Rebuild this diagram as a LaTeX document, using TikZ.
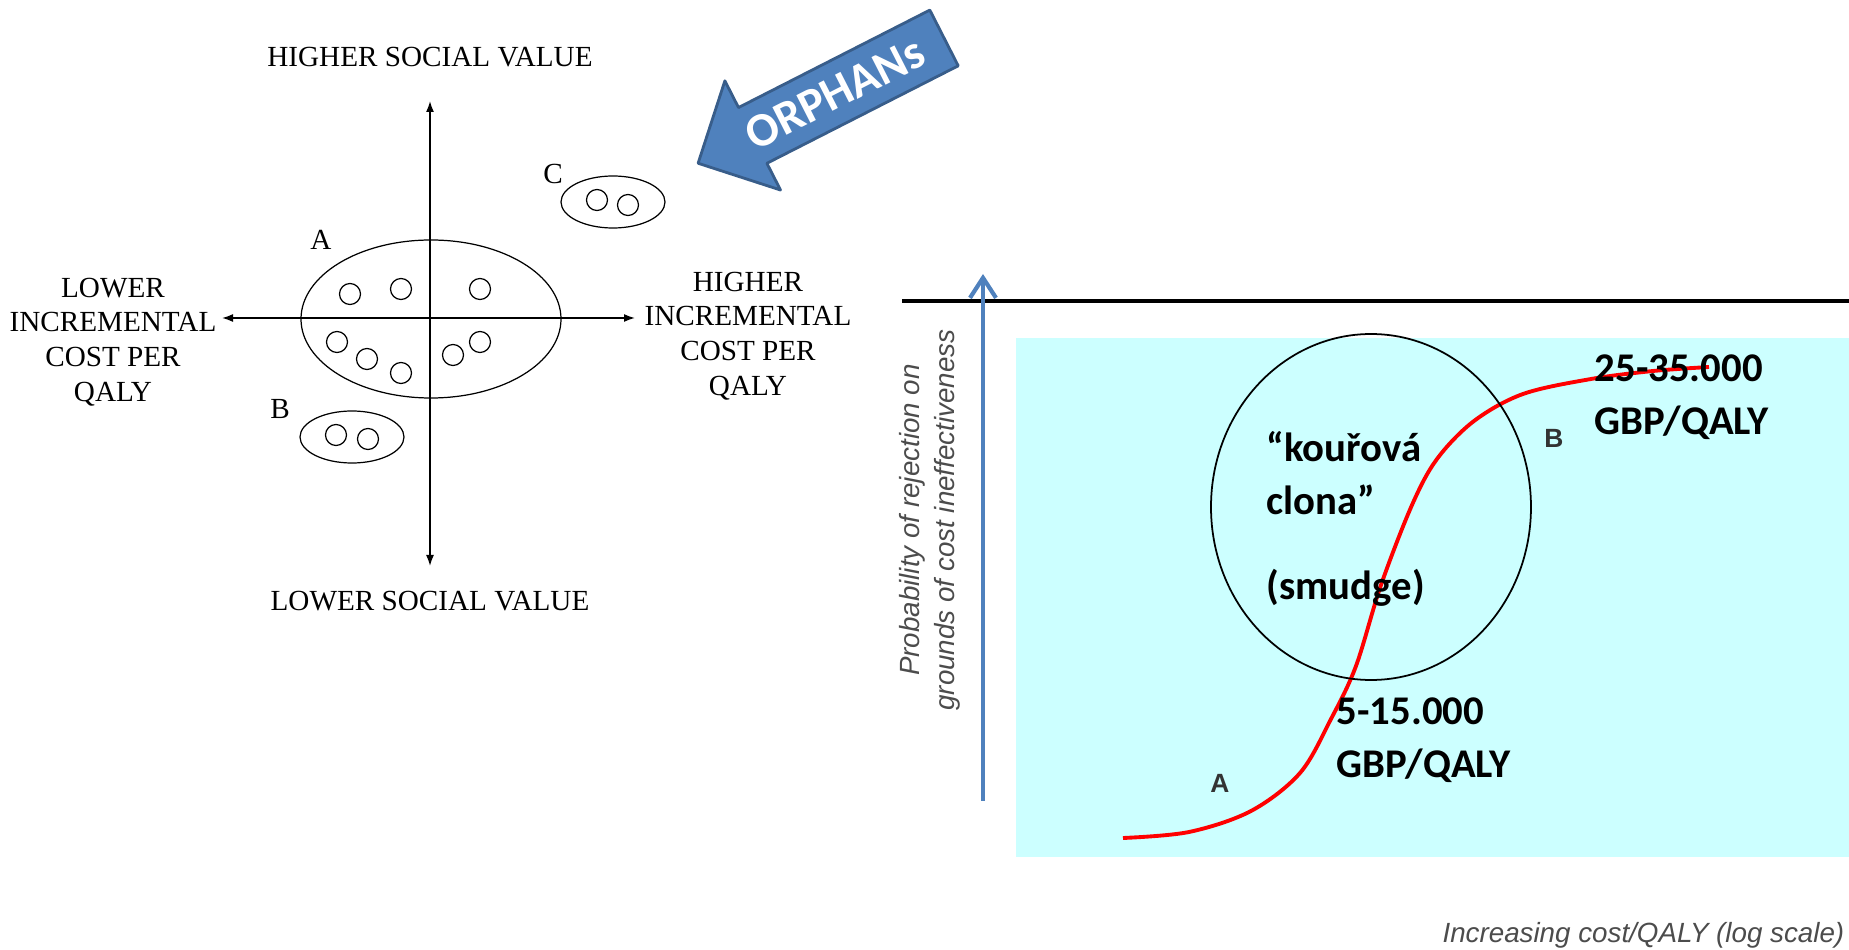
\documentclass[tikz,border=0pt]{standalone}
\usepackage{fontspec}
\setmainfont{Liberation Serif}
\newfontfamily\calibrifont{Carlito}
\newfontfamily\arialfont{Liberation Sans}
\usepackage{xcolor}
\usetikzlibrary{shapes.geometric,shapes.arrows,arrows.meta,positioning}
\definecolor{officeblue}{HTML}{4F81BD}
\definecolor{officeline}{HTML}{385D8A}
\definecolor{panelcyan}{HTML}{CCFFFF}

\begin{document}
\begin{tikzpicture}[line join=round, >={Latex[length=1.1mm,width=0.8mm]}]
    \tikzstyle{quad label}=[font=\fontsize{8.3}{9.9}\selectfont, align=center, inner sep=0pt]
    \tikzstyle{axis}=[<->, line width=0.45pt]
    \tikzstyle{group}=[ellipse, draw, line width=0.35pt, inner sep=0pt]
    \tikzstyle{drug}=[circle, draw, line width=0.35pt, minimum size=0.21cm, inner sep=0pt]
    \tikzstyle{orphan arrow}=[single arrow, shape border rotate=180, fill=officeblue, draw=officeline,
        line width=0.8pt, text=white, font=\calibrifont\bfseries\fontsize{13.6}{14}\selectfont,
        text height=8.8pt, text depth=0pt, inner ysep=4.1pt, inner xsep=2pt,
        single arrow head extend=0.3cm, minimum height=2.76cm]
    \tikzstyle{bold label}=[font=\calibrifont\bfseries\fontsize{11.6}{15}\selectfont, align=left, inner sep=0pt]
    \tikzstyle{axis title}=[font=\arialfont\itshape\fontsize{7.9}{10}\selectfont, text=black!70, align=center, inner sep=0pt]
    \tikzstyle{curve mark}=[font=\arialfont\bfseries\fontsize{7.5}{9}\selectfont, text=black!80, inner sep=0pt]
    \tikzstyle{yarrow}=[draw=officeblue, line width=1.2pt, -{Straight Barb[length=2mm,width=2.6mm]}]
    \tikzstyle{scurve}=[draw=red, line width=1.1pt]
    \tikzstyle{haze}=[ellipse, draw, line width=0.5pt, minimum width=3.2cm, minimum height=3.46cm]

    \useasboundingbox (0,0) rectangle (18.49,-9.50);

    % social value quadrant
    \coordinate (origin) at (4.30,-3.18);
    \coordinate (xneg) at (2.22,-3.18);
    \coordinate (xpos) at (6.35,-3.18);
    \coordinate (ypos) at (4.30,-1.01);
    \coordinate (yneg) at (4.30,-5.66);
    \draw[axis] (xneg) -- (xpos);
    \draw[axis] (yneg) -- (ypos);

    \node[quad label] (hsv) at (4.30,-0.57) {HIGHER SOCIAL VALUE};
    \node[quad label] (lsv) at (4.30,-6.01) {LOWER SOCIAL VALUE};
    \node[quad label] (lic) at (1.13,-3.42) {LOWER\\INCREMENTAL\\COST PER\\QALY};
    \node[quad label] (hic) at (7.48,-3.36) {HIGHER\\INCREMENTAL\\COST PER\\QALY};

    \node[group, minimum width=2.60cm, minimum height=1.58cm] (grpA) at (4.31,-3.19) {};
    \node[group, minimum width=1.04cm, minimum height=0.52cm] (grpB) at (3.52,-4.37) {};
    \node[group, minimum width=1.04cm, minimum height=0.52cm] (grpC) at (6.13,-2.02) {};
    \node[quad label] (labA) at (3.21,-2.40) {A};
    \node[quad label] (labB) at (2.80,-4.09) {B};
    \node[quad label] (labC) at (5.53,-1.74) {C};

    \foreach \pos [count=\i] in {(3.50,-2.94),(4.01,-2.89),(4.80,-2.89),(3.37,-3.42),
                                 (3.67,-3.59),(4.01,-3.73),(4.53,-3.55),(4.80,-3.42)}
        \node[drug] (drugA\i) at \pos {};
    \node[drug] (drugB1) at (3.36,-4.35) {};
    \node[drug] (drugB2) at (3.68,-4.39) {};
    \node[drug] (drugC1) at (5.97,-2.00) {};
    \node[drug] (drugC2) at (6.28,-2.05) {};

    \node[orphan arrow, rotate=27] (orphans) at (8.35,-0.935) {ORPHANs};

    % rejection curve
    \fill[panelcyan] (10.16,-3.38) rectangle (18.49,-8.57);
    \coordinate (lineL) at (9.02,-3.01);
    \coordinate (lineR) at (18.49,-3.01);
    \draw[line width=0.9pt] (lineL) -- (lineR);
    \coordinate (yfoot) at (9.83,-8.01);
    \coordinate (yhead) at (9.83,-2.74);
    \draw[yarrow] (yfoot) -- (yhead);

    \draw[scurve] plot[smooth, tension=0.55] coordinates {(11.23,-8.38) (11.89,-8.32) (12.51,-8.11)
        (13.00,-7.73) (13.31,-7.19) (13.56,-6.66) (13.81,-5.85) (14.12,-5.05) (14.37,-4.59)
        (14.74,-4.21) (15.23,-3.94) (15.91,-3.79) (16.53,-3.71) (17.09,-3.67)};
    \node[haze] (smoke) at (13.71,-5.07) {};

    \node[bold label, anchor=west] (kour) at (12.66,-4.73) {“kouřová\\clona”};
    \node[bold label, anchor=west] (smudge) at (12.66,-5.88) {(smudge)};
    \node[bold label, anchor=west] (upper) at (15.94,-3.975) {25-35.000\\GBP/QALY};
    \node[bold label, anchor=west] (lower) at (13.36,-7.405) {5-15.000\\GBP/QALY};
    \node[curve mark] (markA) at (12.20,-7.83) {A};
    \node[curve mark] (markB) at (15.54,-4.38) {B};

    \node[axis title, rotate=90] (ytitle) at (9.30,-5.20) {Probability of rejection on\\grounds of cost ineffectiveness};
    \node[axis title, anchor=east] (xtitle) at (18.45,-9.35) {Increasing cost/QALY (log scale)};
\end{tikzpicture}
\end{document}
